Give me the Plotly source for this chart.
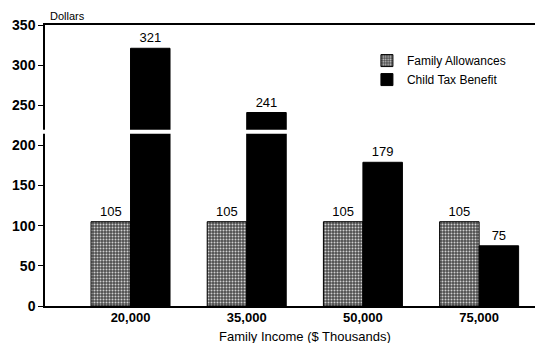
import plotly.graph_objects as go

# Annual benefit per family, by family income
income_labels = ["20,000", "35,000", "50,000", "75,000"]
family_allowances = [105, 105, 105, 105]
child_tax_benefit = [321, 241, 179, 75]
y_ticks = [0, 50, 100, 150, 200, 250, 300, 350]

FONT = "Liberation Sans, Arial, Helvetica, sans-serif"

fig = go.Figure()

fig.add_trace(go.Bar(
    name="Family Allowances",
    x=income_labels,
    y=family_allowances,
    text=[str(v) for v in family_allowances],
    textposition="outside",
    textfont=dict(family=FONT, size=13, color="black"),
    cliponaxis=False,
    marker=dict(
        color="#6e6e6e",
        line=dict(color="black", width=1),
        pattern=dict(shape=".", bgcolor="#4e4e4e", fgcolor="#cfcfcf",
                     size=3, solidity=0.35, fillmode="replace"),
    ),
))

fig.add_trace(go.Bar(
    name="Child Tax Benefit",
    x=income_labels,
    y=child_tax_benefit,
    text=[str(v) for v in child_tax_benefit],
    textposition="outside",
    textfont=dict(family=FONT, size=13, color="black"),
    cliponaxis=False,
    marker=dict(color="black", line=dict(color="black", width=1)),
))

# Scale break drawn across the value axis and the tall bars
fig.add_shape(type="line", xref="paper", yref="y",
              x0=-0.012, x1=1, y0=217, y1=217,
              line=dict(color="white", width=4), layer="above")

fig.add_annotation(text="Dollars", xref="paper", yref="paper",
                   x=0.006, y=1.032, xanchor="left", yanchor="middle",
                   showarrow=False, font=dict(family=FONT, size=11, color="black"))

fig.add_annotation(text="Family Income ($ Thousands)", xref="paper", yref="paper",
                   x=0.53, y=-0.110, xanchor="center", yanchor="middle",
                   showarrow=False, font=dict(family=FONT, size=13, color="black"))

fig.update_layout(
    width=535, height=343,
    margin=dict(l=45, r=0, t=25, b=37),
    paper_bgcolor="white", plot_bgcolor="white",
    barmode="group", bargap=0.32, bargroupgap=0,
    font=dict(family=FONT, color="black"),
    showlegend=True,
    legend=dict(x=0.657, y=0.925, xanchor="left", yanchor="top",
                font=dict(family=FONT, size=12, color="black"),
                bgcolor="rgba(0,0,0,0)", tracegroupgap=2),
    xaxis=dict(
        type="category",
        range=[-0.736, 3.481],
        showline=True, linecolor="black", linewidth=1.5, mirror=True,
        ticks="", showgrid=False, zeroline=False,
        tickfont=dict(family=FONT, size=13, color="black", weight="bold"),
        ticklabelstandoff=-1,
    ),
    yaxis=dict(
        range=[0, 350],
        tickvals=y_ticks,
        showline=True, linecolor="black", linewidth=1.5,
        ticks="outside", ticklen=5, tickwidth=1, tickcolor="black",
        showgrid=False, zeroline=False,
        tickfont=dict(family=FONT, size=14, color="black", weight="bold"),
    ),
)

fig.write_html("out.html")
